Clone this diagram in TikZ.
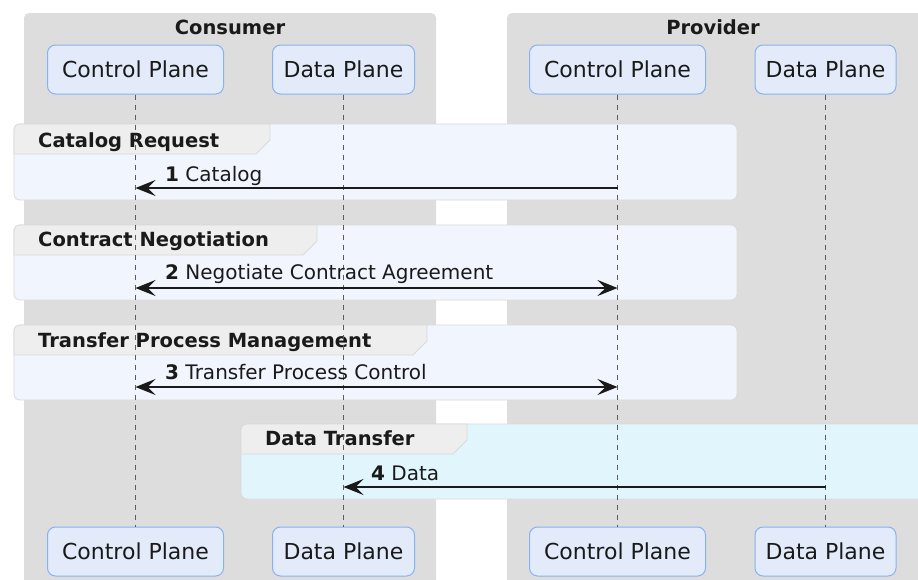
\documentclass[tikz,border=0pt]{standalone}
\usepackage{fontspec}
\setmainfont{DejaVu Sans}
\usetikzlibrary{arrows.meta}
\definecolor{boxgray}{HTML}{DDDDDD}
\definecolor{partfill}{HTML}{E3EBFA}
\definecolor{partline}{HTML}{86B2F2}
\definecolor{grpfill}{HTML}{F1F5FD}
\definecolor{grpline}{HTML}{DADADA}
\definecolor{tabfill}{HTML}{EEEEEE}
\definecolor{dtfill}{HTML}{E1F5FD}
\definecolor{lifecol}{HTML}{5C5C5C}
\definecolor{ink}{HTML}{1A1A1A}
\begin{document}
\begin{tikzpicture}[x=1pt,y=-1pt,
  part/.style={draw=partline, fill=partfill, rounded corners=8pt, line width=1pt,
    minimum height=49pt, inner sep=0pt, text=ink, font=\fontsize{22}{26}\selectfont},
  boxttl/.style={text=ink, font=\bfseries\fontsize{19.5}{23}\selectfont, inner sep=0pt},
  hdr/.style={text=ink, font=\bfseries\fontsize{19.5}{23}\selectfont, inner sep=0pt, anchor=base west},
  lbl/.style={text=ink, font=\fontsize{20}{24}\selectfont, inner sep=0pt, anchor=base west},
  life/.style={draw=lifecol, dash pattern=on 5pt off 5pt, line width=1pt},
  grp/.style={draw=grpline, fill=grpfill, line width=0.8pt, rounded corners=6pt},
  dtgrp/.style={draw=grpline, fill=dtfill, line width=0.8pt, rounded corners=6pt},
  tab/.style={draw=grpline, fill=tabfill, line width=0.8pt},
  msg/.style={draw=ink, line width=1.6pt, -{Stealth[length=20pt,width=16pt,inset=8pt]}},
  msgb/.style={draw=ink, line width=1.6pt, {Stealth[length=20pt,width=16pt,inset=8pt]}-{Stealth[length=20pt,width=16pt,inset=8pt]}}
]
\useasboundingbox (0,0) rectangle (918,579);
\clip (0,0) rectangle (918,579);
\fill[white] (0,0) rectangle (918,579);

% boxes
\fill[boxgray, rounded corners=5pt] (24,13) rectangle (436,600);
\fill[boxgray, rounded corners=5pt] (507,13) rectangle (940,600);
\node[boxttl] (tcons) at (230,27) {Consumer};
\node[boxttl] (tprov) at (713,27) {Provider};

% groups
\path[grp] (14,124) rectangle (737,200);
\path[tab] (14,154) [rounded corners=6pt] -- (14,124) [sharp corners] -- (270,124) -- (270,140) -- (256,154) -- cycle;
\node[hdr] (g1) at (38,147) {Catalog Request};

\path[grp] (14,225) rectangle (737,300);
\path[tab] (14,255) [rounded corners=6pt] -- (14,225) [sharp corners] -- (317,225) -- (317,241) -- (303,255) -- cycle;
\node[hdr] (g2) at (38,246) {Contract Negotiation};

\path[grp] (14,325) rectangle (737,400);
\path[tab] (14,355) [rounded corners=6pt] -- (14,325) [sharp corners] -- (427,325) -- (427,341) -- (413,355) -- cycle;
\node[hdr] (g3) at (38,347) {Transfer Process Management};

\path[dtgrp] (241,424) rectangle (960,499);
\path[tab] (241,454) [rounded corners=6pt] -- (241,424) [sharp corners] -- (467,424) -- (467,440) -- (453,454) -- cycle;
\node[hdr] (g4) at (265,445) {Data Transfer};

% participants
\node[part, minimum width=176pt] (ccpT) at (135.5,69.5) {Control Plane};
\node[part, minimum width=142pt] (cdpT) at (343.5,69.5) {Data Plane};
\node[part, minimum width=176pt] (pcpT) at (617.5,69.5) {Control Plane};
\node[part, minimum width=141pt] (pdpT) at (825.5,69.5) {Data Plane};
\node[part, minimum width=176pt] (ccpB) at (135.5,551.5) {Control Plane};
\node[part, minimum width=142pt] (cdpB) at (343.5,551.5) {Data Plane};
\node[part, minimum width=176pt] (pcpB) at (617.5,551.5) {Control Plane};
\node[part, minimum width=141pt] (pdpB) at (825.5,551.5) {Data Plane};

% lifelines
\draw[life] (ccpT.south) -- (ccpB.north);
\draw[life] (cdpT.south) -- (cdpB.north);
\draw[life] (pcpT.south) -- (pcpB.north);
\draw[life] (pdpT.south) -- (pdpB.north);

% message endpoints
\coordinate (m1s) at (pcpT |- 0,188);
\coordinate (m1e) at (ccpT |- 0,188);
\coordinate (m2s) at (ccpT |- 0,288);
\coordinate (m2e) at (pcpT |- 0,288);
\coordinate (m3s) at (ccpT |- 0,387);
\coordinate (m3e) at (pcpT |- 0,387);
\coordinate (m4s) at (pdpT |- 0,487);
\coordinate (m4e) at (cdpT |- 0,487);

\draw[msg] (m1s) -- (m1e);
\draw[msgb] (m2s) -- (m2e);
\draw[msgb] (m3s) -- (m3e);
\draw[msg] (m4s) -- (m4e);

\node[lbl] (l1) at (165,181) {\textbf{1} Catalog};
\node[lbl] (l2) at (165,279.5) {\textbf{2} Negotiate Contract Agreement};
\node[lbl] (l3) at (165,379.5) {\textbf{3} Transfer Process Control};
\node[lbl] (l4) at (371,480) {\textbf{4} Data};
\end{tikzpicture}
\end{document}
